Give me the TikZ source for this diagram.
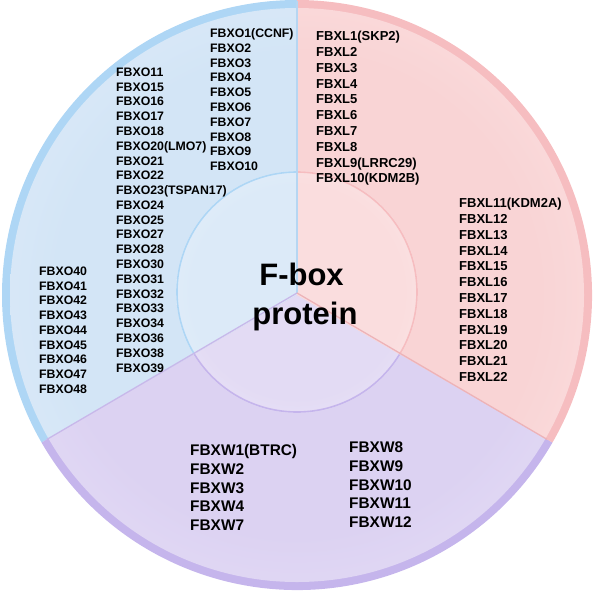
\documentclass[tikz,border=0pt]{standalone}
\usepackage{fontspec}
\usetikzlibrary{calc}
\setmainfont{Liberation Sans}
\definecolor{bmid}{HTML}{D3E5F6}
\definecolor{blight}{HTML}{F2F7FD}
\definecolor{bring}{HTML}{AED6F5}
\definecolor{bline}{HTML}{B6D6F2}
\definecolor{binC}{HTML}{DCEAF8}
\definecolor{binE}{HTML}{F6FAFE}
\definecolor{rmid}{HTML}{F9D4D5}
\definecolor{rlight}{HTML}{FEF2F2}
\definecolor{rring}{HTML}{F6BDC0}
\definecolor{rline}{HTML}{EDB3B8}
\definecolor{rinC}{HTML}{FADDDE}
\definecolor{rinE}{HTML}{FEF6F6}
\definecolor{pmid}{HTML}{DCD2F2}
\definecolor{plight}{HTML}{F5F2FC}
\definecolor{pring}{HTML}{C5B5EC}
\definecolor{pline}{HTML}{C8B8EA}
\definecolor{pinC}{HTML}{E3DBF4}
\definecolor{pinE}{HTML}{F8F6FD}
\pgfdeclareradialshading{bsh}{\pgfpoint{0bp}{0bp}}{color(0bp)=(bmid);color(21bp)=(bmid);color(50bp)=(blight)}
\pgfdeclareradialshading{rsh}{\pgfpoint{0bp}{0bp}}{color(0bp)=(rmid);color(21bp)=(rmid);color(50bp)=(rlight)}
\pgfdeclareradialshading{psh}{\pgfpoint{0bp}{0bp}}{color(0bp)=(pmid);color(21bp)=(pmid);color(50bp)=(plight)}
\pgfdeclareradialshading{bin}{\pgfpoint{0bp}{0bp}}{color(0bp)=(binC);color(22bp)=(binC);color(50bp)=(binE)}
\pgfdeclareradialshading{rin}{\pgfpoint{0bp}{0bp}}{color(0bp)=(rinC);color(22bp)=(rinC);color(50bp)=(rinE)}
\pgfdeclareradialshading{pin}{\pgfpoint{0bp}{0bp}}{color(0bp)=(pinC);color(22bp)=(pinC);color(50bp)=(pinE)}
\tikzset{
  lblo/.style={anchor=base west,inner sep=0pt,font=\fontsize{12.3}{14}\selectfont\bfseries},
  lbll/.style={anchor=base west,inner sep=0pt,font=\fontsize{13}{15}\selectfont\bfseries},
  lblw/.style={anchor=base west,inner sep=0pt,font=\fontsize{15.4}{18}\selectfont\bfseries},
  title/.style={anchor=base,inner sep=0pt,font=\fontsize{31}{34}\selectfont\bfseries}
}
\begin{document}
\begin{tikzpicture}[x=1pt,y=1pt]
\useasboundingbox (0,0) rectangle (594,-592);
\coordinate (C) at (297,-295);
\coordinate (I) at (297,-292);
% outer rings
\fill[bring] (C) -- ++(90:295) arc[start angle=90,end angle=210,radius=295] -- cycle;
\fill[pring] (C) -- ++(210:295) arc[start angle=210,end angle=330,radius=295] -- cycle;
\fill[rring] (C) -- ++(-30:295) arc[start angle=-30,end angle=90,radius=295] -- cycle;
% sectors
\begin{scope}
\clip (C) -- ++(90:287) arc[start angle=90,end angle=210,radius=287] -- cycle;
\shade[shading=bsh] (C) circle (287);
\shade[shading=bin] (I) circle (121);
\draw[bring,line width=1.6pt] (I) circle (120);
\end{scope}
\begin{scope}
\clip (C) -- ++(210:287) arc[start angle=210,end angle=330,radius=287] -- cycle;
\shade[shading=psh] (C) circle (287);
\shade[shading=pin] (I) circle (121);
\draw[pring,line width=1.6pt] (I) circle (120);
\end{scope}
\begin{scope}
\clip (C) -- ++(-30:287) arc[start angle=-30,end angle=90,radius=287] -- cycle;
\shade[shading=rsh] (C) circle (287);
\shade[shading=rin] (I) circle (121);
\draw[rring,line width=1.6pt] (I) circle (120);
\end{scope}
% boundaries
\coordinate (V) at (297,-293);
\coordinate (Etop) at (297,-1);
\coordinate (Eleft) at ($(C)+(210:289)$);
\coordinate (Eright) at ($(C)+(-30:289)$);
\draw[bline,line width=1.5pt] (V) -- (Etop);
\draw[pline,line width=1.3pt] (V) -- (Eleft);
\draw[rline,line width=1.3pt] (V) -- (Eright);
% FBXO column 1
\foreach \t [count=\i from 0] in {FBXO1(CCNF),FBXO2,FBXO3,FBXO4,FBXO5,FBXO6,FBXO7,FBXO8,FBXO9,FBXO10}
  \node[lblo] (oa\i) at (210,{-37.4-\i*14.8}) {\t};
\foreach \t [count=\i from 0] in {FBXO11,FBXO15,FBXO16,FBXO17,FBXO18,FBXO20(LMO7),FBXO21,FBXO22,FBXO23(TSPAN17),FBXO24,FBXO25,FBXO27,FBXO28,FBXO30,FBXO31,FBXO32,FBXO33,FBXO34,FBXO36,FBXO38,FBXO39}
  \node[lblo] (ob\i) at (116,{-76.4-\i*14.78}) {\t};
\foreach \t [count=\i from 0] in {FBXO40,FBXO41,FBXO42,FBXO43,FBXO44,FBXO45,FBXO46,FBXO47,FBXO48}
  \node[lblo] (oc\i) at (39,{-275.4-\i*14.75}) {\t};
% FBXL
\foreach \t [count=\i from 0] in {FBXL1(SKP2),FBXL2,FBXL3,FBXL4,FBXL5,FBXL6,FBXL7,FBXL8,FBXL9(LRRC29),FBXL10(KDM2B)}
  \node[lbll] (la\i) at (316,{-40.6-\i*15.8}) {\t};
\foreach \t [count=\i from 0] in {FBXL11(KDM2A),FBXL12,FBXL13,FBXL14,FBXL15,FBXL16,FBXL17,FBXL18,FBXL19,FBXL20,FBXL21,FBXL22}
  \node[lbll] (lb\i) at (459,{-207.6-\i*15.8}) {\t};
% FBXW
\foreach \t [count=\i from 0] in {FBXW1(BTRC),FBXW2,FBXW3,FBXW4,FBXW7}
  \node[lblw] (wa\i) at (190,{-455.5-\i*18.8}) {\t};
\foreach \t [count=\i from 0] in {FBXW8,FBXW9,FBXW10,FBXW11,FBXW12}
  \node[lblw] (wb\i) at (349,{-452.5-\i*18.8}) {\t};
% center
\node[title] (t1) at (301.5,-285) {F-box};
\node[title] (t2) at (305,-324) {protein};
\end{tikzpicture}
\end{document}
